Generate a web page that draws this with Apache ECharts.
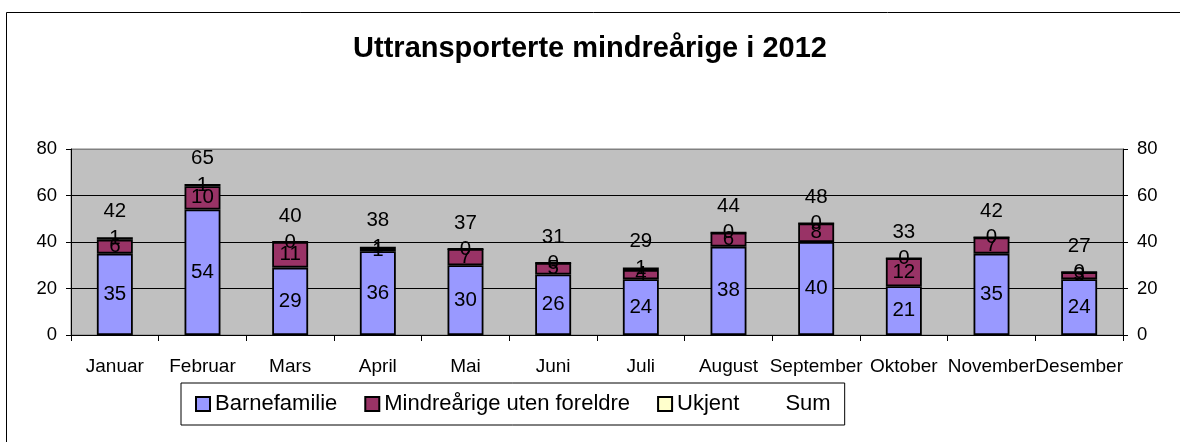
<!DOCTYPE html>
<html>
<head>
<meta charset="utf-8">
<script src="https://cdn.jsdelivr.net/npm/echarts@6/dist/echarts.min.js"></script>
<style>
  html, body { margin: 0; padding: 0; background: #fff; }
  #chart { width: 1180px; height: 442px; }
</style>
</head>
<body>
<div id="chart"></div>
<script>
// data
var months = ["Januar", "Februar", "Mars", "April", "Mai", "Juni", "Juli", "August", "September", "Oktober", "November", "Desember"];
var barnefamilie = [35, 54, 29, 36, 30, 26, 24, 38, 40, 21, 35, 24];
var mindrearige = [6, 10, 11, 1, 7, 5, 4, 6, 8, 12, 7, 3];
var ukjent = [1, 1, 0, 1, 0, 0, 1, 0, 0, 0, 0, 0];
var sum = [42, 65, 40, 38, 37, 31, 29, 44, 48, 33, 42, 27];
var yTicks = { min: 0, max: 80, interval: 20 };

var font = "Liberation Sans, Arial, sans-serif";
var myChart = echarts.init(document.getElementById("chart"));

function stackBar(name, data, color) {
    return {
        type: "bar",
        name: name,
        stack: "total",
        data: data,
        barWidth: "41%",
        itemStyle: { color: color, borderColor: "#000", borderWidth: 1.8 },
        label: {
            show: true,
            position: "inside",
            color: "#000",
            fontSize: 20.5,
            fontFamily: font
        }
    };
}

function yAxis(pos) {
    return {
        type: "value",
        position: pos,
        min: yTicks.min,
        max: yTicks.max,
        interval: yTicks.interval,
        axisLine: { show: true, lineStyle: { color: "#000", width: 1 } },
        axisTick: { show: true, length: 5, lineStyle: { color: "#000" } },
        axisLabel: { color: "#000", fontSize: 18.5, fontFamily: font, margin: 14 },
        splitLine: {
            show: pos === "left",
            // last line (80) is the grey plot frame
            lineStyle: { color: ["#000", "#000", "#000", "#000", "#808080"], width: 1 }
        }
    };
}

var option = {
    animation: false,
    title: {
        text: "Uttransporterte mindreårige i 2012",
        left: "center",
        top: 29,
        textStyle: { fontSize: 29, fontWeight: "bold", color: "#000", fontFamily: font }
    },
    graphic: [{
        type: "rect",
        shape: { x: 6.5, y: 12.5, width: 1300, height: 600 },
        style: { fill: "none", stroke: "#000", lineWidth: 1 },
        silent: true
    }],
    grid: {
        left: 71,
        right: 57,
        top: 149,
        bottom: 107,
        show: true,
        backgroundColor: "#C0C0C0",
        borderColor: "#808080",
        borderWidth: 1
    },
    legend: {
        left: 181,
        top: 383,
        padding: [10, 14, 10, 14],
        itemGap: 27,
        itemWidth: 14,
        itemHeight: 14,
        borderColor: "#000",
        borderWidth: 1,
        textStyle: { fontSize: 22, color: "#000", fontFamily: font },
        data: [
            { name: "Barnefamilie", icon: "rect" },
            { name: "Mindreårige uten foreldre", icon: "rect" },
            { name: "Ukjent", icon: "rect" },
            { name: "Sum", icon: "rect", itemStyle: { color: "transparent", borderWidth: 0 } }
        ]
    },
    xAxis: {
        type: "category",
        data: months,
        axisLine: { lineStyle: { color: "#000" } },
        axisTick: { show: true, length: 6, alignWithLabel: false, lineStyle: { color: "#000" } },
        axisLabel: { color: "#000", fontSize: 19, fontFamily: font, margin: 22, interval: 0 }
    },
    yAxis: [yAxis("left"), yAxis("right")],
    series: [
        stackBar("Barnefamilie", barnefamilie, "#9999FF"),
        stackBar("Mindreårige uten foreldre", mindrearige, "#993366"),
        stackBar("Ukjent", ukjent, "#FFFFCC"),
        {
            type: "line",
            name: "Sum",
            data: sum,
            symbol: "circle",
            symbolSize: 1,
            itemStyle: { color: "transparent" },
            lineStyle: { width: 0, color: "transparent" },
            label: {
                show: true,
                position: "top",
                distance: 15,
                color: "#000",
                fontSize: 20.5,
                fontFamily: font
            }
        }
    ]
};
myChart.setOption(option);
</script>
</body>
</html>
